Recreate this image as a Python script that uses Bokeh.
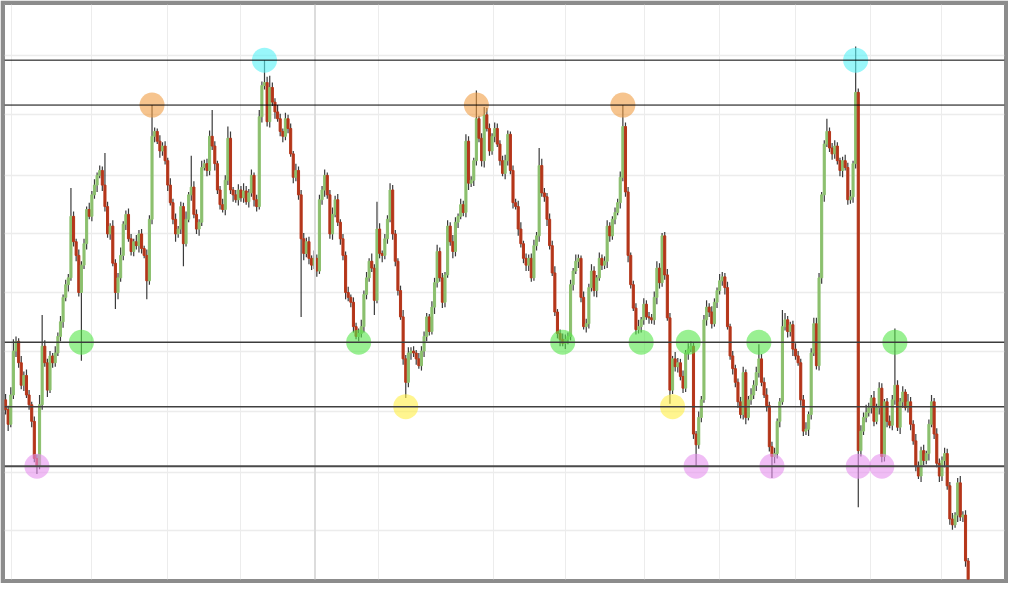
from bokeh.plotting import figure
from bokeh.models import Range1d, FixedTicker, Span, ColumnDataSource, Grid
from bokeh.embed import file_html
from bokeh.resources import INLINE

# ---------------- data (price units) ----------------
first_open = 190
closes = [
    180, 165, 195, 240, 250, 228, 205, 215, 195, 185,
    168, 130, 122, 185, 245, 228, 200, 235, 228, 238,
    255, 270, 295, 308, 315, 378, 352, 338, 300, 328,
    350, 385, 378, 400, 410, 420, 425, 410, 388, 360,
    368, 330, 300, 315, 338, 370, 380, 355, 342, 352,
    348, 360, 345, 338, 312, 375, 460, 465, 455, 445,
    450, 435, 410, 392, 375, 360, 365, 388, 350, 375,
    400, 408, 380, 365, 372, 428, 432,
    425, 460, 450, 432, 405, 390, 385, 415, 458, 405,
    400, 395, 405, 397, 404, 393, 402, 420, 395, 388,
    480, 512, 515, 475, 510, 495, 485, 478, 465, 460,
    478, 468, 442, 418, 425, 400, 355, 340, 352, 335,
    328, 335, 322, 395, 405, 420, 400, 360, 380, 395,
    372, 355, 338, 300, 295, 290, 265, 255, 258, 265,
    298, 315, 332, 325, 292, 365, 340, 338, 355, 375,
    405, 360, 332, 302, 275, 232, 208, 238, 240, 238,
    232, 225, 240, 255, 275, 260, 285, 310, 342, 315,
    290, 318, 368, 352, 342, 372, 378, 390, 382, 455,
    412, 415, 435, 478, 458, 435, 482, 468, 445, 460,
    468, 452, 435, 422, 435, 462, 425, 392, 388, 365,
    350, 335, 328, 335, 315, 348, 358, 430, 402, 398,
    375, 348, 320, 280, 258, 252, 248, 252, 255, 308,
    322, 332, 335, 295, 265, 268, 305, 322, 302, 315,
    335, 328, 332, 368, 358, 375, 382, 392, 418, 470,
    403, 338, 308, 284, 262, 265, 272, 288, 275, 274,
    272, 295, 325, 310, 358, 318, 274, 200, 232, 224,
    228, 214, 202, 238, 242, 245, 155, 144, 172, 190,
    272, 285, 280, 268, 290, 302, 312, 316, 305, 265,
    235, 222, 208, 188, 175, 218, 172, 190, 195, 205,
    218, 232, 208, 195, 184, 142, 132, 135, 168, 188,
    265, 272, 260, 267, 242, 235, 228, 190, 158, 160,
    175, 238, 268, 225, 315, 400, 452, 465, 448, 442,
    450, 435, 425, 435, 428, 395, 398, 432, 505, 138,
    158, 172, 177, 182, 192, 168, 182, 202, 132, 188,
    168, 164, 190, 205, 162, 188, 198, 182, 188, 165,
    148, 122, 112, 138, 128, 135, 165, 188, 155, 125,
    112, 128, 135, 102, 68, 62, 72, 105, 70, 72,
    25, 2,
]
wick_up = [
    6, 4, 8, 12, 5, 3, 7, 4, 6, 5, 3, 5, 4, 10, 3, 6, 4, 5, 3, 7,
    4, 6, 3, 5, 4, 8, 5, 3, 6, 4, 5, 3, 7, 4, 6, 3, 5, 4, 7, 5,
    3, 6, 4, 5, 8, 3, 4, 6, 5, 3, 7, 4, 5, 3, 6, 4, 5, 4, 3, 6,
    4, 5, 3, 7, 4, 6, 3, 5, 4, 8, 3, 4, 6, 5, 3, 7, 4, 5, 6, 4,
    5, 3, 4, 6, 5, 4, 7, 3, 5, 6, 4, 8, 5, 4, 6, 3, 5, 7, 4, 5,
    6, 3, 5, 4, 7, 5, 3, 6, 4, 5, 3, 7, 4, 5, 6, 4, 5, 3, 8, 4,
    5, 4, 6, 3, 5, 7, 4, 6, 3, 5, 4, 6, 3, 5, 4, 5, 7, 4, 6, 3,
    8, 4, 5, 6, 3, 5, 4, 7, 5, 4, 3, 5, 7, 4, 6, 4, 5, 3, 6, 5,
    5, 4, 3, 6, 5, 7, 4, 5, 3, 6, 4, 7, 5, 3, 6, 4, 8, 5, 4, 3,
    6, 3, 5, 4, 7, 5, 3, 6, 5, 4, 5, 6, 4, 3, 5, 4, 6, 7, 3, 5,
    4, 5, 6, 4, 3, 7, 5, 4, 6, 5, 7, 3, 4, 6, 5, 4, 5, 3, 7, 4,
    3, 6, 5, 4, 7, 5, 3, 6, 4, 5, 6, 4, 3, 5, 4, 6, 8, 4, 5, 3,
    4, 5, 7, 3, 6, 4, 5, 4, 6, 7, 5, 3, 4, 6, 5, 3, 7, 5, 4, 6,
    3, 6, 5, 4, 3, 6, 4, 5, 7, 4, 6, 4, 3, 7, 5, 4, 6, 3, 5, 4,
    4, 5, 6, 3, 4, 7, 5, 6, 3, 5, 5, 7, 4, 5, 6, 3, 4, 5, 7, 4,
    3, 4, 6, 5, 4, 5, 7, 3, 5, 6, 6, 5, 3, 4, 7, 4, 5, 6, 4, 3,
    4, 6, 5, 7, 3, 5, 4, 6, 5, 8, 5, 3, 7, 4, 6, 5, 3, 4, 6, 5,
    7, 5, 4, 6, 3, 8, 5, 4, 7, 5, 4, 6, 3, 5, 7, 4, 6, 5, 4, 6,
    5, 4, 6, 3, 5, 7, 4, 5, 3,
]
wick_dn = [
    5, 7, 3, 4, 6, 5, 4, 6, 3, 5, 6, 4, 8, 3, 5, 4, 7, 3, 5, 4,
    3, 5, 6, 4, 7, 3, 5, 6, 4, 8, 4, 6, 3, 5, 4, 7, 3, 6, 5, 4,
    6, 3, 5, 7, 4, 5, 6, 3, 4, 5, 4, 7, 5, 3, 6, 4, 5, 6, 3, 7,
    5, 4, 6, 3, 5, 8, 4, 5, 6, 3, 3, 6, 4, 5, 7, 4, 3, 6, 5, 4,
    7, 4, 5, 3, 6, 5, 4, 7, 3, 6, 4, 5, 3, 6, 4, 7, 5, 3, 6, 4,
    5, 6, 4, 7, 3, 5, 6, 4, 5, 3, 6, 4, 5, 3, 7, 4, 6, 5, 4, 6,
    3, 5, 7, 4, 5, 6, 3, 4, 6, 5, 7, 4, 5, 6, 3, 5, 4, 6, 5, 4,
    4, 6, 3, 5, 7, 4, 5, 3, 6, 5, 5, 3, 6, 4, 5, 7, 4, 6, 3, 5,
    6, 5, 4, 3, 7, 5, 4, 6, 5, 3, 4, 7, 5, 6, 3, 4, 5, 7, 4, 6,
    5, 4, 6, 7, 3, 5, 4, 6, 3, 5, 3, 6, 5, 4, 6, 3, 7, 4, 5, 6,
    6, 4, 3, 5, 6, 4, 5, 7, 4, 3, 4, 5, 7, 3, 6, 5, 4, 6, 3, 7,
    5, 3, 6, 5, 4, 6, 7, 3, 5, 4, 7, 6, 4, 5, 3, 6, 4, 5, 7, 4,
    3, 5, 4, 6, 5, 3, 6, 4, 5, 7, 6, 4, 5, 3, 7, 4, 5, 6, 4, 5,
    4, 7, 3, 5, 6, 4, 5, 3, 6, 5, 5, 3, 6, 4, 5, 7, 3, 4, 6, 5,
    6, 4, 5, 7, 3, 5, 4, 6, 5, 4, 3, 6, 5, 4, 7, 5, 6, 3, 4, 6,
    5, 7, 4, 3, 6, 5, 4, 7, 5, 3, 4, 5, 6, 7, 3, 4, 6, 5, 4, 6,
    7, 3, 5, 4, 6, 5, 3, 6, 4, 5, 4, 6, 5, 3, 7, 4, 5, 6, 3, 5,
    5, 4, 7, 6, 3, 5, 6, 4, 5, 3, 6, 5, 4, 7, 3, 5, 4, 6, 5, 7,
    4, 6, 5, 3, 7, 4, 5, 6, 4,
]
# candles whose wick reaches a level
high_points = {14: 277, 25: 407, 38: 443, 56: 492, 71: 440, 79: 487, 85: 470,
               99: 538, 101: 522, 142: 393, 176: 462, 180: 507, 183: 490,
               204: 448, 236: 492, 288: 247, 297: 282, 314: 478, 325: 552,
               340: 263}
low_points = {12: 114, 29: 230, 42: 283, 54: 293, 68: 327, 113: 275, 141: 277,
              153: 192, 254: 186, 264: 122, 293: 110, 326: 80, 335: 126}

# horizontal support / resistance levels
levels = [538, 492, 249, 183, 122]
level_colors = ["#000000", "#000000", "#3c3c3c", "#404040", "#4a4a4a"]
level_widths = [1.0, 1.0, 1.6, 1.6, 1.8]

# touch markers: candle index per level
cyan_idx = [99, 325]
orange_idx = [56, 180, 236]
green_idx = [29, 135, 213, 243, 261, 288, 340]
yellow_idx = [153, 255]
pink_idx = [12, 264, 293, 326, 335]

# grid positions (candle index / price)
x_grid = [2.1, 32.8, 61.8, 90.0, 142.4, 186.4, 213.9, 244.1, 273.1, 302.1, 330.7, 357.8]
x_major = 118.3
y_grid = [56, 116, 178, 240, 300, 360, 420, 482, 543]

# ---------------- build candles ----------------
n = len(closes)
opens = [first_open] + closes[:-1]
idx = list(range(n))
highs, lows, tops, bots, colors = [], [], [], [], []
for i in idx:
    o, c = opens[i], closes[i]
    t, b = max(o, c), min(o, c)
    h = max(t, high_points.get(i, t + wick_up[i]))
    l = min(b, low_points.get(i, b - wick_dn[i]))
    highs.append(h)
    lows.append(l)
    tops.append(t)
    bots.append(b)
    colors.append("#8cc06e" if c >= o else "#b5361a")

src = ColumnDataSource(dict(x=idx, high=highs, low=lows, top=tops, bottom=bots, color=colors))

p = figure(width=1008, height=583, output_backend="svg", toolbar_location=None,
           x_range=Range1d(-0.4, 381.9), y_range=Range1d(6, 595),
           x_axis_location=None, y_axis_location=None,
           min_border=4, min_border_left=4, min_border_right=4,
           min_border_top=4, min_border_bottom=4,
           border_fill_color="#8c8c8c", background_fill_color="white",
           outline_line_color="#8c8c8c", outline_line_width=1)
p.grid.visible = False

p.add_layout(Grid(dimension=0, ticker=FixedTicker(ticks=x_grid),
                  grid_line_color="#ececec", grid_line_width=1))
p.add_layout(Grid(dimension=1, ticker=FixedTicker(ticks=y_grid),
                  grid_line_color="#ececec", grid_line_width=1.5))
p.add_layout(Span(location=x_major, dimension="height", line_color="#dcdcdc", line_width=2))

for lv, lc, lw in zip(levels, level_colors, level_widths):
    p.add_layout(Span(location=lv, dimension="width", line_color=lc, line_width=lw))

p.segment(x0="x", y0="low", x1="x", y1="high", source=src,
          line_color="#262626", line_alpha=0.9, line_width=1.2)
p.vbar(x="x", width=0.8, top="top", bottom="bottom", source=src,
       fill_color="color", line_color="color", line_width=1)

marker_groups = [(cyan_idx, levels[0], "#55f2f7"), (orange_idx, levels[1], "#f09d43"),
                 (green_idx, levels[2], "#55e64a"), (yellow_idx, levels[3], "#ffee44"),
                 (pink_idx, levels[4], "#e691ee")]
for ids, lv, col in marker_groups:
    p.scatter(x=ids, y=[lv] * len(ids), size=25, fill_color=col, fill_alpha=0.6,
              line_color=None)

open("out.html", "w").write(file_html(p, INLINE))
